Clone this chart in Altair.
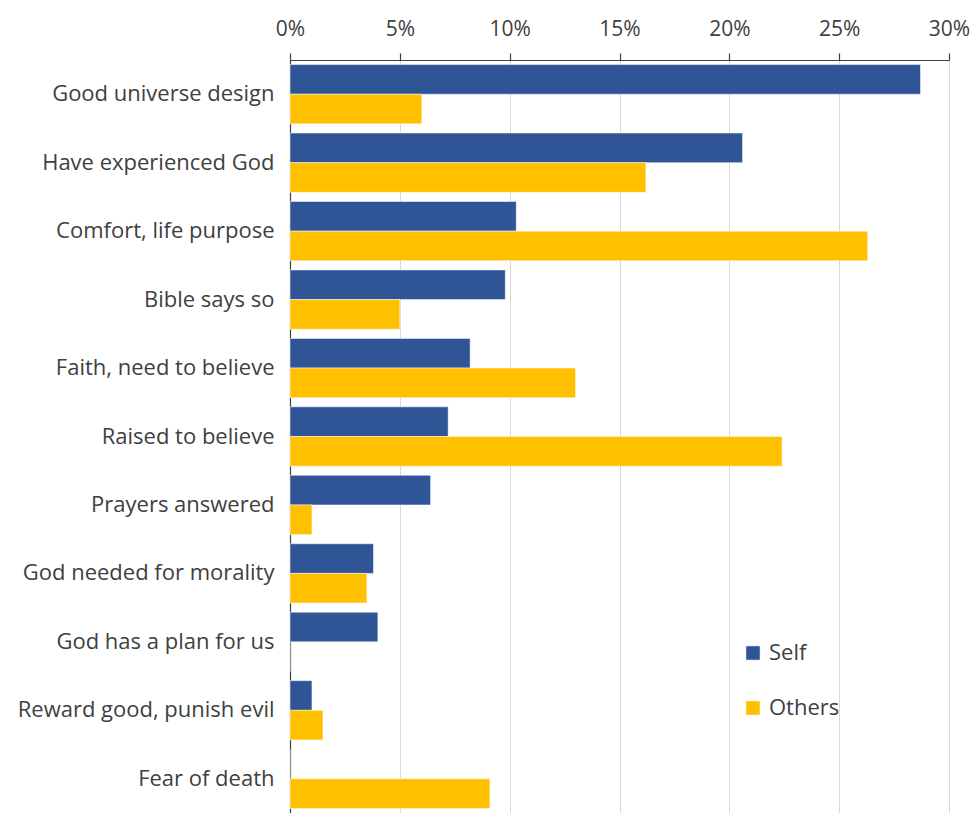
import altair as alt
import pandas as pd

categories = [
    "Good universe design", "Have experienced God", "Comfort, life purpose",
    "Bible says so", "Faith, need to believe", "Raised to believe",
    "Prayers answered", "God needed for morality", "God has a plan for us",
    "Reward good, punish evil", "Fear of death",
]
self_vals = [28.7, 20.6, 10.3, 9.8, 8.2, 7.2, 6.4, 3.8, 4.0, 1.0, 0.0]
others_vals = [6.0, 16.2, 26.3, 5.0, 13.0, 22.4, 1.0, 3.5, 0.0, 1.5, 9.1]
series = ["Self", "Others"]
colors = ["#2F5597", "#FFC000"]

rows = []
for c, s, o in zip(categories, self_vals, others_vals):
    rows.append({"category": c, "series": "Self", "value": s / 100})
    rows.append({"category": c, "series": "Others", "value": o / 100})
df = pd.DataFrame(rows)

FONT = "Open Sans"
TXT = "#404040"
FS = 22

chart = alt.Chart(df).mark_bar().encode(
    x=alt.X("value:Q",
            scale=alt.Scale(domain=[0, 0.30], nice=False, zero=True),
            axis=alt.Axis(orient="top", format=".0%", values=[0, .05, .1, .15, .2, .25, .3],
                          title=None, grid=True, gridColor="#D9D9D9", gridWidth=1,
                          domainColor="#404040", domainWidth=1.2,
                          tickColor="#404040", tickSize=7, tickWidth=1.2,
                          labelFont=FONT, labelFontSize=21, labelColor=TXT,
                          labelFlush=False, labelPadding=14)),
    y=alt.Y("category:N", sort=categories,
            scale=alt.Scale(paddingInner=0.134, paddingOuter=0.067),
            axis=alt.Axis(title=None, ticks=False, domainColor="#404040", domainWidth=1.2,
                          labelFont=FONT, labelFontSize=FS, labelColor=TXT,
                          labelPadding=16, labelLimit=400)),
    yOffset=alt.YOffset("series:N", sort=series, scale=alt.Scale(paddingInner=0, paddingOuter=0)),
    color=alt.Color("series:N", sort=series,
                    scale=alt.Scale(domain=series, range=colors),
                    legend=alt.Legend(title=None, orient="none", legendX=452, legendY=582,
                                      symbolType="square", symbolSize=200,
                                      symbolStrokeWidth=0, labelFont=FONT,
                                      labelFontSize=FS, labelColor=TXT,
                                      labelOffset=5, rowPadding=33)),
).properties(
    width=659, height=753,
    autosize=alt.AutoSizeParams(type="none"),
    padding={"left": 282, "top": 52, "right": 21, "bottom": 0},
).configure_view(stroke=None).configure_bar(stroke="white", strokeWidth=0.5)

chart.save("out.html", embed_options={"renderer": "svg", "actions": False})
